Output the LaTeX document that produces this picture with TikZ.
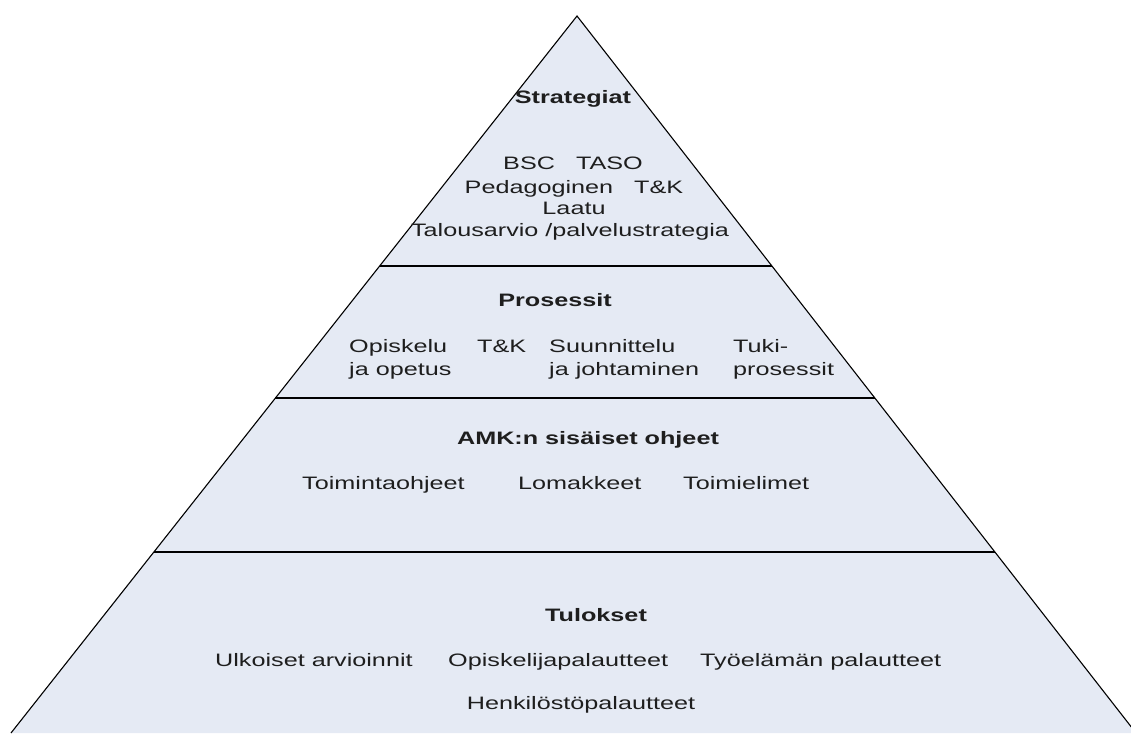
\documentclass[tikz,border=0pt]{standalone}
\usepackage{fontspec}
\setmainfont{Liberation Sans}
\usetikzlibrary{calc}
\definecolor{pyrfill}{HTML}{E5EAF4}
\definecolor{txtcol}{HTML}{1E1E1E}
\newcommand{\sx}[1]{\scalebox{1.4}[1]{#1}}
\tikzset{
  lbl/.style={font=\fontsize{18}{22}\selectfont, text=txtcol, inner sep=0pt, anchor=base},
  lblw/.style={lbl, anchor=base west},
  head/.style={lbl, font=\fontsize{18}{22}\selectfont\bfseries},
  edge/.style={draw=black, line width=1.1pt},
  divider/.style={draw=black, line width=1.1pt},
}
\begin{document}
\begin{tikzpicture}[x=1pt,y=-1pt]
\useasboundingbox (0,0) rectangle (1131,733);
\fill[white] (0,0) rectangle (1131,733);
\coordinate (apex) at (577,16);
\coordinate (bl) at (11,733);
\coordinate (br) at (1136,733);
\coordinate (L1) at ($(apex)!0.3487!(bl)$);
\coordinate (R1) at ($(apex)!0.3487!(br)$);
\coordinate (L2) at ($(apex)!0.5328!(bl)$);
\coordinate (R2) at ($(apex)!0.5328!(br)$);
\coordinate (L3) at ($(apex)!0.7476!(bl)$);
\coordinate (R3) at ($(apex)!0.7476!(br)$);
\begin{scope}
  \clip (0,0) rectangle (1131,733);
  \fill[pyrfill] (apex) -- (br) -- (bl) -- cycle;
  \draw[edge] (bl) -- (apex) -- (br);
\end{scope}
\draw[divider] (L1) -- (R1);
\draw[divider] (L2) -- (R2);
\draw[divider] (L3) -- (R3);

% Strategiat
\node[head] (strat) at (573,103) {\sx{Strategiat}};
\node[lbl] (bsc) at (573,169) {\sx{BSC\ \ \ TASO}};
\node[lbl] (ped) at (574,193) {\sx{Pedagoginen\ \ \ T\&K}};
\node[lbl] (laatu) at (574,214) {\sx{Laatu}};
\node[lbl] (talous) at (570,236) {\sx{Talousarvio /palvelustrategia}};

% Prosessit
\node[head] (pros) at (555,306) {\sx{Prosessit}};
\node[lblw] (opis1) at (349,352) {\sx{Opiskelu}};
\node[lblw] (opis2) at (349,375) {\sx{ja opetus}};
\node[lblw] (tk) at (477,352) {\sx{T\&K}};
\node[lblw] (suun1) at (549,352) {\sx{Suunnittelu}};
\node[lblw] (suun2) at (549,375) {\sx{ja johtaminen}};
\node[lblw] (tuki1) at (733,352) {\sx{Tuki-}};
\node[lblw] (tuki2) at (733,375) {\sx{prosessit}};

% AMK
\node[head] (amk) at (588,444) {\sx{AMK:n sisäiset ohjeet}};
\node[lblw] (toim) at (302,489) {\sx{Toimintaohjeet}};
\node[lblw] (loma) at (518,489) {\sx{Lomakkeet}};
\node[lblw] (elim) at (683,489) {\sx{Toimielimet}};

% Tulokset
\node[head] (tul) at (596,621) {\sx{Tulokset}};
\node[lblw] (ulk) at (215,666) {\sx{Ulkoiset arvioinnit}};
\node[lblw] (opp) at (448,666) {\sx{Opiskelijapalautteet}};
\node[lblw] (tyo) at (700,666) {\sx{Työelämän palautteet}};
\node[lbl] (henk) at (581,709) {\sx{Henkilöstöpalautteet}};
\end{tikzpicture}
\end{document}
